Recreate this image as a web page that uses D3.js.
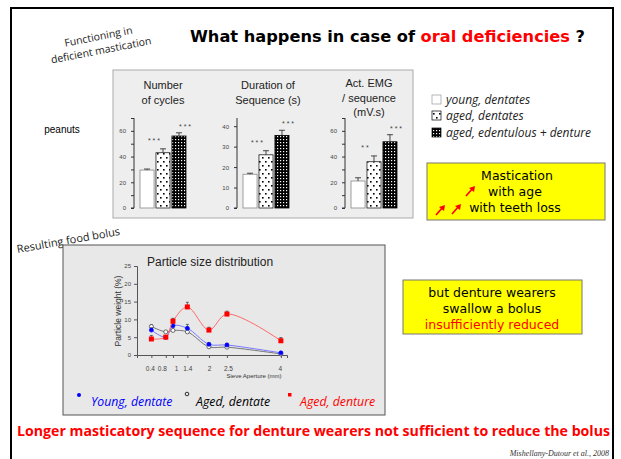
<!DOCTYPE html>
<html>
<head>
<meta charset="utf-8">
<script src="https://cdn.jsdelivr.net/npm/d3@7"></script>
<style>
  body { margin: 0; background: #fff; }
  svg { display: block; }
</style>
</head>
<body>
<svg id="slide" width="621" height="459"></svg>
<script>
// bar charts (peanuts)
const groups = ['young, dentates', 'aged, dentates', 'aged, edentulous + denture'];
const cyclesVals = [29.5, 43, 56];
const cyclesErr = [0.8, 3, 2.5];
const durationVals = [16.5, 26, 35.5];
const durationErr = [0.5, 2, 2.5];
const emgVals = [21, 36, 51.5];
const emgErr = [2.5, 4.5, 5.5];
const cyclesStars = ['***', '***'];
const durationStars = ['***', '***'];
const emgStars = ['**', '***'];

// particle size distribution
const sieve = [0.4, 0.8, 1, 1.4, 2, 2.5, 4];
const youngDentate = [7, 5, 8.2, 7.5, 3, 2.8, 0.6];
const youngErr = [0.6, 0, 0.6, 1.1, 0.4, 0.5, 0.2];
const agedDentate = [8, 6.5, 6.9, 6.5, 2.3, 2.2, 0.3];
const agedErr = [0.5, 0, 0, 0, 0, 0, 0];
const agedDenture = [4.5, 5, 9.5, 13.5, 7, 11.5, 4];
const dentureErr = [1, 0, 0.8, 1.3, 0.8, 0.8, 0.9];
const yTicksPSD = [0, 5, 10, 15, 20, 25];

const svg = d3.select('#slide');
const defs = svg.append('defs');

// patterns
const dots = defs.append('pattern').attr('id', 'dots')
  .attr('patternUnits', 'userSpaceOnUse').attr('width', 6).attr('height', 8);
dots.append('rect').attr('width', 6).attr('height', 8).attr('fill', '#fff');
dots.append('rect').attr('x', 1).attr('y', 1).attr('width', 1.6).attr('height', 1.6).attr('fill', '#000');
dots.append('rect').attr('x', 4).attr('y', 5).attr('width', 1.6).attr('height', 1.6).attr('fill', '#000');

const checks = defs.append('pattern').attr('id', 'checks')
  .attr('patternUnits', 'userSpaceOnUse').attr('width', 3).attr('height', 3);
checks.append('rect').attr('width', 3).attr('height', 3).attr('fill', '#000');
checks.append('rect').attr('x', 1).attr('y', 1).attr('width', 1.2).attr('height', 1.2).attr('fill', '#fff');

const fills = ['#fff', 'url(#dots)', 'url(#checks)'];
const strokes = ['#888', '#222', '#000'];

svg.append('rect').attr('width', 621).attr('height', 459).attr('fill', '#fff');
svg.append('rect').attr('x', 11).attr('y', 8).attr('width', 602).attr('height', 470)
  .attr('fill', 'none').attr('stroke', '#000').attr('stroke-width', 2);

// title
const title = svg.append('text').attr('x', 190).attr('y', 42)
  .attr('font-family', '"DejaVu Sans", sans-serif').attr('font-weight', 'bold')
  .attr('font-size', 15.5).attr('textLength', 395).attr('lengthAdjust', 'spacingAndGlyphs');
title.append('tspan').text('What happens in case of ');
title.append('tspan').attr('fill', '#ff0000').text('oral deficiencies');
title.append('tspan').text(' ?');

const side = svg.append('g').attr('transform', 'translate(100,45) rotate(-11)')
  .attr('font-family', '"Open Sans", sans-serif').attr('font-size', 10.5)
  .attr('fill', '#222').attr('text-anchor', 'middle');
side.append('text').attr('y', -5).text('Functioning in');
side.append('text').attr('y', 9).text('deficient mastication');

svg.append('text').attr('transform', 'translate(69,244) rotate(-10)')
  .attr('font-family', '"Open Sans", sans-serif').attr('font-size', 11)
  .attr('fill', '#222').attr('text-anchor', 'middle').text('Resulting food bolus');

svg.append('text').attr('x', 62).attr('y', 133).attr('text-anchor', 'middle')
  .attr('font-family', '"Liberation Sans", Arial, sans-serif').attr('font-size', 10)
  .text('peanuts');

// bar panel
svg.append('rect').attr('x', 113).attr('y', 70).attr('width', 300).attr('height', 148)
  .attr('fill', '#eeeeee').attr('stroke', '#aaa');

const barCharts = [
  { ax: 134, max: 70, tickStep: 10, labelStep: 20, vals: cyclesVals, err: cyclesErr,
    stars: cyclesStars, title: ['Number', 'of cycles'], tx: 163 },
  { ax: 237, max: 44, tickStep: 10, labelStep: 10, vals: durationVals, err: durationErr,
    stars: durationStars, title: ['Duration of', 'Sequence (s)'], tx: 268 },
  { ax: 345, max: 70, tickStep: 10, labelStep: 20, vals: emgVals, err: emgErr,
    stars: emgStars, title: ['Act. EMG', '/ sequence', '(mV.s)'], tx: 369 }
];
const topPx = 118, botPx = 208;
barCharts.forEach(c => {
  const g = svg.append('g');
  const y = d3.scaleLinear().domain([0, c.max]).range([botPx, topPx]);
  const x = d3.scaleBand().domain(groups).range([c.ax + 6, c.ax + 52]).paddingInner(0.12);
  const ticks = d3.range(0, c.max + 0.01, c.tickStep);
  const axis = d3.axisLeft(y).tickValues(ticks).tickSize(3).tickPadding(5)
    .tickFormat(d => d % c.labelStep === 0 ? d : '');
  const ag = g.append('g').attr('transform', `translate(${c.ax},0)`).call(axis);
  ag.select('.domain').attr('stroke', '#333').attr('d', `M-3,${botPx}H0V${topPx}`);
  ag.selectAll('.tick line').attr('stroke', '#333');
  ag.selectAll('text').attr('font-size', 6).attr('fill', '#444')
    .attr('font-family', '"Liberation Sans", Arial, sans-serif');

  g.selectAll('.bar').data(c.vals).enter().append('rect')
    .attr('x', (d, i) => x(groups[i])).attr('width', x.bandwidth())
    .attr('y', d => y(d)).attr('height', d => botPx - y(d))
    .attr('fill', (d, i) => fills[i]).attr('stroke', (d, i) => strokes[i]).attr('stroke-width', 0.8);

  g.selectAll('.err').data(c.vals).enter().append('path')
    .attr('d', (d, i) => {
      const cx = x(groups[i]) + x.bandwidth() / 2;
      const t = y(d + c.err[i]);
      return `M${cx},${y(d)}V${t}M${cx - 3},${t}H${cx + 3}`;
    }).attr('stroke', '#333').attr('stroke-width', 0.9).attr('fill', 'none');

  // significance stars between adjacent bars
  c.stars.forEach((s, k) => {
    const top = Math.max(c.vals[k + 1] + c.err[k + 1], c.vals[k] + c.err[k]);
    const sx = x(groups[k + 1]) + (k === 0 ? -1 : x.bandwidth());
    g.append('text').attr('x', sx).attr('y', y(top) - 6 + (k === 0 ? 0 : 2))
      .attr('text-anchor', 'middle').attr('font-size', 7).attr('letter-spacing', 2)
      .attr('fill', '#444').attr('font-family', '"Liberation Sans", Arial, sans-serif')
      .text(s);
  });

  const t = g.append('text').attr('text-anchor', 'middle')
    .attr('font-family', '"Liberation Sans", Arial, sans-serif').attr('font-size', 11).attr('fill', '#222');
  c.title.forEach((line, i) => {
    const y0 = c.title.length === 3 ? 87 : 89;
    t.append('tspan').attr('x', c.tx).attr('y', y0 + i * 14.5).text(line);
  });
});

// legend of bars
const leg = svg.append('g').attr('font-family', '"Open Sans", sans-serif')
  .attr('font-style', 'italic').attr('font-size', 12).attr('fill', '#222');
groups.forEach((gname, i) => {
  const yy = [95, 111, 128][i];
  leg.append('rect').attr('x', 432).attr('y', yy).attr('width', 9).attr('height', 9)
    .attr('fill', fills[i]).attr('stroke', i === 0 ? '#999' : '#000').attr('stroke-width', 0.7);
  leg.append('text').attr('x', 446).attr('y', yy + 9).text(gname);
});

// yellow box 1
svg.append('rect').attr('x', 427).attr('y', 163).attr('width', 178).attr('height', 57)
  .attr('fill', '#ffff00').attr('stroke', '#777');
const y1 = svg.append('g').attr('font-family', '"DejaVu Sans", sans-serif').attr('font-size', 12.5)
  .attr('text-anchor', 'middle').attr('fill', '#000');
y1.append('text').attr('x', 517).attr('y', 180).text('Mastication');
y1.append('text').attr('x', 515).attr('y', 196).text('with age');
y1.append('text').attr('x', 515).attr('y', 212).text('with teeth loss');
const arrow = (x0, y0) => {
  svg.append('path').attr('d', `M${x0},${y0}L${x0 + 7},${y0 - 8}`).attr('stroke', '#ff0000')
    .attr('stroke-width', 1.6).attr('fill', 'none');
  svg.append('path').attr('d', `M${x0 + 9},${y0 - 10}L${x0 + 3},${y0 - 8}L${x0 + 8},${y0 - 4}Z`)
    .attr('fill', '#ff0000');
};
arrow(466, 196);
arrow(436, 215);
arrow(452, 214);

// yellow box 2
svg.append('rect').attr('x', 403).attr('y', 280).attr('width', 179).attr('height', 54)
  .attr('fill', '#ffff00').attr('stroke', '#777');
const y2 = svg.append('g').attr('font-family', '"DejaVu Sans", sans-serif').attr('font-size', 12.5)
  .attr('text-anchor', 'middle');
y2.append('text').attr('x', 492).attr('y', 297).text('but denture wearers');
y2.append('text').attr('x', 492).attr('y', 313).text('swallow a bolus');
y2.append('text').attr('x', 492).attr('y', 329).attr('fill', '#ff0000').text('insufficiently reduced');

// particle size panel
svg.append('rect').attr('x', 63).attr('y', 245).attr('width', 322).attr('height', 170)
  .attr('fill', '#e8e8e8').attr('stroke', '#555');
svg.append('text').attr('x', 147).attr('y', 266)
  .attr('font-family', '"Liberation Sans", Arial, sans-serif').attr('font-size', 12).attr('fill', '#222')
  .text('Particle size distribution');

const px = d3.scaleLinear().domain([0, 4.17]).range([137, 287]);
const py = d3.scaleLinear().domain([0, 25]).range([355, 266]);
const labelShift = { 0.4: -1.5, 0.8: -4, 1: 3, 1.4: 0, 2: 0, 2.5: 1, 4: -1 };
const pg = svg.append('g');
const yAx = pg.append('g').attr('transform', 'translate(137,0)')
  .call(d3.axisLeft(py).tickValues(yTicksPSD).tickSize(3).tickPadding(3));
yAx.selectAll('text').attr('font-size', 6).attr('fill', '#444');
yAx.selectAll('line, path').attr('stroke', '#555');
const xAx = pg.append('g').attr('transform', 'translate(0,355)')
  .call(d3.axisBottom(px).tickValues(sieve).tickSize(3).tickPadding(8).tickFormat(d => d));
xAx.selectAll('text').attr('font-size', 6.5).attr('fill', '#444').attr('dx', d => labelShift[d]);
xAx.selectAll('line, path').attr('stroke', '#555');
pg.append('text').attr('transform', 'translate(121,311) rotate(-90)').attr('text-anchor', 'middle')
  .attr('font-size', 8.5).attr('fill', '#333').attr('font-family', '"Liberation Sans", Arial, sans-serif')
  .text('Particle weight (%)');
pg.append('text').attr('x', 254).attr('y', 378).attr('text-anchor', 'middle')
  .attr('font-size', 6).attr('fill', '#333').attr('font-family', '"Liberation Sans", Arial, sans-serif')
  .text('Sieve Aperture (mm)');

const series = [
  { vals: agedDentate, err: agedErr, line: '#777', mark: 'open' },
  { vals: youngDentate, err: youngErr, line: '#7777ff', mark: 'blue' },
  { vals: agedDenture, err: dentureErr, line: '#ff6a6a', mark: 'red' }
];
const lineGen = d3.line().x(d => px(d[0])).y(d => py(d[1])).curve(d3.curveCatmullRom.alpha(0.5));
series.forEach(s => {
  const pts = sieve.map((v, i) => [v, s.vals[i], s.err[i]]);
  pg.append('path').attr('d', lineGen(pts)).attr('fill', 'none')
    .attr('stroke', s.line).attr('stroke-width', 1);
  pg.selectAll(null).data(pts.filter(p => p[2] > 0)).enter().append('path')
    .attr('d', p => `M${px(p[0])},${py(p[1])}V${py(p[1] + p[2])}M${px(p[0]) - 1.5},${py(p[1] + p[2])}H${px(p[0]) + 1.5}`)
    .attr('stroke', '#333').attr('stroke-width', 0.7);
  if (s.mark === 'red') {
    pg.selectAll(null).data(pts).enter().append('rect')
      .attr('x', p => px(p[0]) - 2.5).attr('y', p => py(p[1]) - 2.5)
      .attr('width', 5).attr('height', 5).attr('fill', '#ff0000');
  } else {
    pg.selectAll(null).data(pts).enter().append('circle')
      .attr('cx', p => px(p[0])).attr('cy', p => py(p[1])).attr('r', 2)
      .attr('fill', s.mark === 'blue' ? '#0000ff' : '#fff')
      .attr('stroke', s.mark === 'blue' ? '#0000ff' : '#333').attr('stroke-width', 0.7);
  }
});

// particle legend
const pl = svg.append('g').attr('font-family', '"Open Sans", sans-serif')
  .attr('font-style', 'italic').attr('font-size', 12.3);
pl.append('circle').attr('cx', 79).attr('cy', 395).attr('r', 2).attr('fill', '#0000ff');
pl.append('text').attr('x', 91).attr('y', 406).attr('fill', '#0000ff').text('Young, dentate');
pl.append('circle').attr('cx', 187).attr('cy', 394).attr('r', 1.8).attr('fill', 'none')
  .attr('stroke', '#000').attr('stroke-width', 0.8);
pl.append('text').attr('x', 196).attr('y', 406).attr('fill', '#000').text('Aged, dentate');
pl.append('rect').attr('x', 288).attr('y', 393).attr('width', 3.5).attr('height', 3.5).attr('fill', '#ff0000');
pl.append('text').attr('x', 300).attr('y', 406).attr('fill', '#ff0000').text('Aged, denture');

// conclusion
svg.append('text').attr('x', 17).attr('y', 436)
  .attr('font-family', '"Open Sans", sans-serif').attr('font-weight', 'bold').attr('font-size', 14)
  .attr('fill', '#ff0000').attr('textLength', 593).attr('lengthAdjust', 'spacingAndGlyphs')
  .text('Longer masticatory sequence for denture wearers not sufficient to reduce the bolus');
svg.append('text').attr('x', 609).attr('y', 456).attr('text-anchor', 'end')
  .attr('font-family', '"Liberation Serif", serif').attr('font-style', 'italic').attr('font-size', 8)
  .attr('fill', '#333').text('Mishellany-Dutour et al., 2008');
</script>
</body>
</html>
